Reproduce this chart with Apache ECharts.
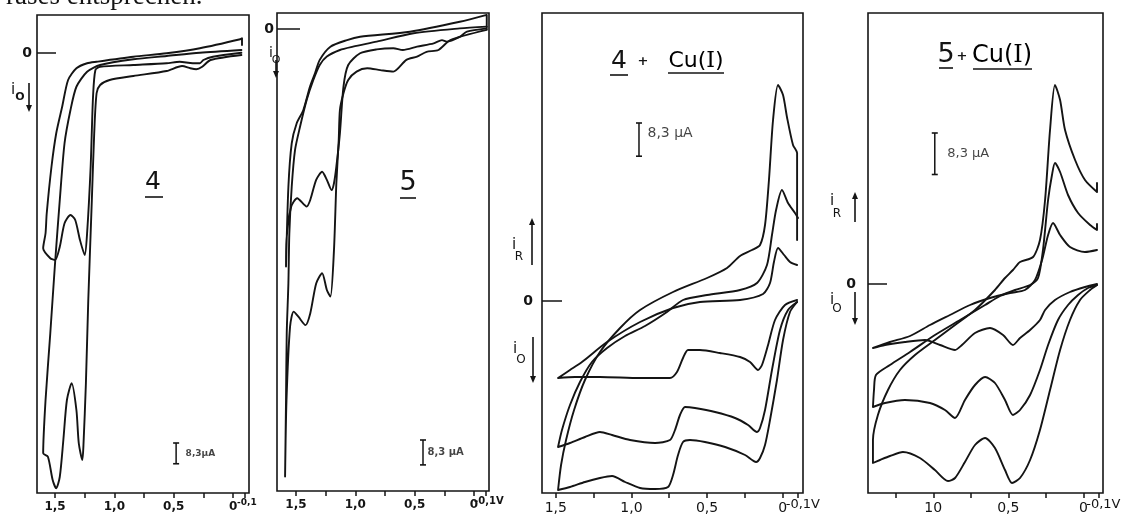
<!DOCTYPE html>
<html>
<head>
<meta charset="utf-8">
<title>Cyclovoltammogramme 4, 5, 4 + Cu(I), 5 + Cu(I)</title>
<script src="https://cdn.jsdelivr.net/npm/echarts@6/dist/echarts.min.js"></script>
<style>
  html, body { margin: 0; padding: 0; background: #fff; }
  #chart { width: 1121px; height: 523px; }
</style>
</head>
<body>
<div id="chart"></div>
<script>
const INK = "#141414";

// [E / V, i / µA]; oxidation current counted negative (drawn downwards)
// panel 1: compound 4, two successive scans
const p1Scan1 = [
  [-0.07, 0.1], [0.17, -1.5], [0.25, -2.8], [0.28, -4.1], [0.34, -4.1], [0.45, -3.5], [0.56, -4.1],
  [0.84, -4.8], [1.12, -5.5], [1.16, -6.8], [1.18, -17.5], [1.2, -45.5], [1.23, -72.1], [1.25, -80.8],
  [1.29, -74.8], [1.33, -66.8], [1.37, -64.8], [1.42, -68.1], [1.46, -77.5], [1.5, -82.8], [1.54, -82.1],
  [1.6, -78.1], [1.58, -72.1], [1.57, -64.1], [1.53, -45.5], [1.49, -32.1], [1.44, -21.5], [1.39, -10.8],
  [1.32, -6.1], [1.23, -4.1], [1.15, -3.5], [0.84, -1.5], [0.56, -0.1], [0.28, 1.9], [-0.06, 5.5],
  [-0.075, 5.9], [-0.075, 3.2]
];
const p1Scan2 = [
  [-0.07, -0.8], [0.19, -2.8], [0.26, -5.5], [0.31, -6.5], [0.36, -6.1], [0.43, -5.2], [0.56, -7.2],
  [0.84, -9.2], [1.04, -10.8], [1.12, -12.8], [1.15, -16.1], [1.17, -32.1], [1.19, -58.8], [1.22, -98.8],
  [1.24, -132.1], [1.26, -156.1], [1.27, -162.8], [1.3, -156.1], [1.32, -142.8], [1.36, -132.1],
  [1.4, -138.8], [1.43, -154.8], [1.46, -169.5], [1.49, -174.1], [1.52, -170.8], [1.56, -161.5],
  [1.6, -160.1], [1.58, -138.8], [1.54, -112.1], [1.5, -84.1], [1.46, -58.8], [1.42, -36.1],
  [1.37, -22.8], [1.32, -13.5], [1.23, -7.5], [1.12, -4.8], [0.84, -2.5], [0.56, -1.2], [0.28, 0.1],
  [-0.07, 1.2]
];

// panel 2: compound 5, two successive scans
const p2Scan1 = [
  [-0.107, 0.2], [0.06, -0.9], [0.12, -2.6], [0.23, -4.2], [0.27, -3.7], [0.34, -4.8], [0.48, -5.9],
  [0.6, -7.0], [0.68, -6.4], [0.82, -6.8], [0.96, -8.1], [1.06, -12.0], [1.1, -19.2], [1.13, -34.8],
  [1.16, -45.9], [1.18, -51.4], [1.2, -53.7], [1.24, -50.3], [1.28, -47.6], [1.33, -50.3], [1.38, -57.0],
  [1.41, -59.2], [1.49, -56.4], [1.54, -59.2], [1.58, -70.3], [1.584, -79.2], [1.564, -52.6],
  [1.536, -38.1], [1.494, -31.4], [1.438, -27.0], [1.382, -19.2], [1.34, -14.8], [1.3, -10.3],
  [1.21, -5.9], [1.07, -3.7], [0.96, -2.6], [0.54, -0.9], [0.12, 2.4], [-0.107, 4.7], [-0.107, -0.1]
];
const p2Scan2 = [
  [-0.107, -0.3], [0.2, -3.7], [0.3, -7.0], [0.4, -7.6], [0.48, -9.2], [0.57, -10.3], [0.68, -14.2],
  [0.79, -13.7], [0.9, -13.1], [0.99, -14.2], [1.06, -17.0], [1.1, -21.4], [1.13, -27.0], [1.14, -37.0],
  [1.16, -51.4], [1.18, -73.7], [1.21, -89.2], [1.24, -87.0], [1.28, -81.4], [1.33, -84.8], [1.38, -94.8],
  [1.42, -98.7], [1.48, -95.9], [1.52, -94.2], [1.55, -99.2], [1.58, -123.7], [1.592, -149.2],
  [1.584, -123.7], [1.578, -101.4], [1.564, -84.8], [1.556, -68.1], [1.536, -52.6], [1.508, -40.3],
  [1.466, -32.6], [1.41, -23.7], [1.354, -17.0], [1.3, -12.0], [1.24, -9.2], [1.13, -7.0], [1.02, -5.9],
  [0.82, -4.2], [0.51, -1.4], [0.12, 0.2], [-0.107, 0.8]
];

// panel 3: 4 + Cu(I), three scans
const p3Scan1 = [
  [-0.095, 0.25], [-0.015, -1.0], [0.051, -4.75], [0.097, -11.0], [0.137, -16.0], [0.163, -17.25],
  [0.216, -15.25], [0.282, -14.0], [0.415, -13.0], [0.547, -12.25], [0.626, -12.25], [0.659, -14.25],
  [0.699, -17.75], [0.745, -19.25], [0.943, -19.25], [1.208, -19.0], [1.373, -19.0], [1.485, -19.25],
  [1.406, -17.25], [1.327, -15.25], [1.161, -10.25], [0.943, -5.25], [0.725, -1.75], [0.547, -0.25],
  [0.282, 0.25], [0.13, 1.75], [0.084, 4.5], [0.058, 9.75], [0.031, 13.25], [-0.009, 11.5],
  [-0.048, 9.75], [-0.095, 9.0]
];
const p3Scan2 = [
  [-0.095, -0.25], [-0.035, -2.25], [0.018, -7.25], [0.071, -17.25], [0.117, -27.25], [0.15, -31.75],
  [0.17, -32.75], [0.229, -31.0], [0.315, -29.25], [0.447, -27.75], [0.58, -26.75], [0.646, -26.5],
  [0.679, -28.5], [0.712, -32.25], [0.745, -34.75], [0.844, -35.5], [1.009, -34.75], [1.128, -33.5],
  [1.208, -32.75], [1.307, -34.0], [1.406, -35.5], [1.485, -36.5], [1.459, -32.25], [1.406, -26.0],
  [1.34, -20.25], [1.261, -15.25], [1.161, -11.75], [1.042, -8.75], [0.91, -6.25], [0.765, -2.75],
  [0.659, 0.25], [0.5, 1.5], [0.282, 2.75], [0.17, 4.5], [0.104, 9.0], [0.071, 16.5], [0.044, 22.75],
  [0.005, 27.75], [-0.035, 24.5], [-0.081, 22.0], [-0.101, 20.75]
];
const p3Scan3 = [
  [-0.095, -0.25], [-0.048, -2.75], [-0.002, -9.75], [0.038, -19.75], [0.084, -29.75], [0.117, -36.0],
  [0.15, -39.25], [0.176, -40.25], [0.249, -38.5], [0.381, -36.5], [0.514, -35.25], [0.613, -34.75],
  [0.659, -35.25], [0.692, -38.5], [0.725, -43.5], [0.758, -46.5], [0.844, -47.0], [0.943, -46.75],
  [1.042, -45.25], [1.128, -43.75], [1.208, -44.25], [1.307, -45.25], [1.406, -46.5], [1.485, -47.25],
  [1.465, -41.0], [1.432, -34.75], [1.379, -27.25], [1.307, -19.75], [1.208, -12.75], [1.075, -6.75],
  [0.943, -2.25], [0.725, 2.25], [0.5, 5.75], [0.368, 8.25], [0.282, 11.25], [0.203, 12.75],
  [0.15, 14.0], [0.117, 19.0], [0.091, 30.25], [0.064, 45.25], [0.031, 54.0], [-0.002, 51.5],
  [-0.028, 46.0], [-0.068, 39.0], [-0.095, 37.0], [-0.095, 15.25]
];

// panel 4: 5 + Cu(I), three scans
const p4Scan1 = [
  [-0.091, 0], [-0.011, -0.6], [0.089, -1.6], [0.189, -3.2], [0.255, -5.2], [0.289, -7.2], [0.355, -9.2],
  [0.422, -10.8], [0.469, -12.2], [0.535, -10.2], [0.622, -8.8], [0.722, -9.8], [0.809, -12.2],
  [0.855, -13.2], [0.955, -12.2], [1.055, -11.2], [1.189, -11.6], [1.322, -12.2], [1.402, -12.8],
  [1.289, -11.6], [1.155, -10.4], [1.022, -8.2], [0.889, -6.2], [0.755, -4.2], [0.622, -2.8],
  [0.489, -1.8], [0.389, -1.2], [0.322, 0.8], [0.275, 4.8], [0.235, 9.8], [0.202, 12.2], [0.155, 9.8],
  [0.089, 7.4], [-0.011, 6.4], [-0.091, 6.8]
];
const p4Scan2 = [
  [-0.091, -0.2], [-0.031, -0.8], [0.035, -2.2], [0.102, -4.2], [0.169, -7.2], [0.235, -12.2],
  [0.289, -17.2], [0.355, -22.2], [0.422, -25.2], [0.469, -26.2], [0.522, -23.2], [0.589, -19.8],
  [0.655, -18.6], [0.722, -20.2], [0.789, -23.2], [0.855, -26.8], [0.922, -25.2], [1.022, -23.8],
  [1.189, -23.2], [1.322, -23.8], [1.402, -24.6], [1.395, -21.2], [1.382, -18.2], [1.289, -16.2],
  [1.155, -13.6], [0.989, -10.2], [0.822, -7.2], [0.655, -4.2], [0.555, -2.4], [0.455, -1.2],
  [0.355, -0.2], [0.302, 1.2], [0.269, 6.8], [0.235, 16.8], [0.209, 21.8], [0.189, 24.2], [0.155, 22.4],
  [0.102, 17.8], [0.035, 14.2], [-0.045, 11.8], [-0.091, 10.8], [-0.091, 12.0]
];
const p4Scan3 = [
  [-0.091, -0.2], [-0.045, -1.2], [0.022, -3.2], [0.089, -7.2], [0.155, -13.2], [0.222, -21.2],
  [0.289, -29.2], [0.355, -35.2], [0.422, -38.8], [0.475, -39.8], [0.522, -37.2], [0.589, -32.8],
  [0.655, -30.8], [0.722, -32.2], [0.789, -35.6], [0.855, -38.8], [0.902, -39.4], [0.989, -37.2],
  [1.089, -34.8], [1.202, -33.6], [1.289, -34.4], [1.355, -35.2], [1.402, -35.8], [1.402, -31.2],
  [1.369, -26.2], [1.302, -21.2], [1.222, -17.2], [1.122, -14.2], [0.989, -11.2], [0.855, -8.2],
  [0.722, -5.2], [0.589, -1.2], [0.522, 1.2], [0.469, 2.8], [0.422, 4.4], [0.335, 5.4], [0.289, 8.8],
  [0.255, 16.8], [0.222, 30.8], [0.189, 39.8], [0.155, 36.8], [0.122, 30.8], [0.055, 24.8],
  [-0.011, 20.8], [-0.091, 18.4], [-0.091, 20.2]
];

// 8,3 µA scale bars: [E, upper end of bar]
const scaleBars = [[0.48, -156], [0.43, -137], [0.95, 44.5], [0.99, 30.2]];
const scaleBarSpan = 8.3;
const scaleBarText = ["8,3µA", "8,3 µA", "8,3 µA", "8,3 µA"];

const tickValues = [1.5, 1.25, 1.0, 0.75, 0.5, 0.25, 0];
const labelValues = [1.5, 1.0, 0.5, 0];
const tickLabels = [
  ["1,5", "1,0", "0,5", "0"],
  ["1,5", "1,0", "0,5", "0"],
  ["1,5", "1,0", "0,5", "0"],
  ["", "10", "0,5", "0"]
];
const endValue = -0.1;
const endLabels = ["-0,1", "-0,1V", "-0,1V", "-0,1V"];

const panels = [
  { box: [37, 15, 212, 478], x: [-0.134, 1.652], y: [-176, 15.2], scans: [p1Scan1, p1Scan2],
    zeroTick: 19, zeroMargin: 5, font: 12, bold: "bold", endFont: 9, endShift: 4, barFont: 9, barGap: 9 },
  { box: [277, 13, 212, 478], x: [-0.126, 1.66], y: [-154, 5.33], scans: [p2Scan1, p2Scan2],
    zeroTick: 23, zeroMargin: 3, font: 12, bold: "bold", endFont: 10, endShift: 6, barFont: 10, barGap: 4 },
  { box: [542, 13, 261, 480], x: [-0.134, 1.591], y: [-48, 72], scans: [p3Scan1, p3Scan2, p3Scan3],
    zeroTick: 20, zeroMargin: 9, font: 14, bold: "normal", endFont: 13, endShift: 10, barFont: 14, barGap: 8,
    barLabelAt: 0.3 },
  { box: [868, 13, 235, 480], x: [-0.131, 1.435], y: [-41.8, 54.2], scans: [p4Scan1, p4Scan2, p4Scan3],
    zeroTick: 19, zeroMargin: 12, font: 14, bold: "normal", endFont: 13, endShift: 10, barFont: 13, barGap: 12 }
];

function text(t, x, y, size, weight) {
  return { type: "text", x: x, y: y, silent: true, style: {
    text: t, fontSize: size, fontWeight: weight || "normal", fontFamily: "DejaVu Sans", fill: INK,
    align: "center", verticalAlign: "middle"
  } };
}
function line(x1, y1, x2, y2) {
  return { type: "line", silent: true, shape: { x1: x1, y1: y1, x2: x2, y2: y2 },
           style: { stroke: INK, lineWidth: 1.6 } };
}
function arrow(x, from, to) {
  const d = to > from ? -7 : 7;
  return [line(x, from, x, to + d * 0.5),
          { type: "polygon", silent: true, shape: { points: [[x - 3, to + d], [x + 3, to + d], [x, to]] },
            style: { fill: INK } }];
}

const cuRich = (size) => ({
  a: { fontSize: size, fontFamily: "DejaVu Sans", color: INK },
  b: { fontSize: size, fontFamily: "DejaVu Serif", color: INK }
});

const graphic = [
  { type: "text", x: 6, y: -3, silent: true, style: { text: "rases entsprechen.", fontSize: 27,
    fontFamily: "Liberation Serif", fill: INK, align: "left", verticalAlign: "middle" } },
  text("i", 13, 90, 15), text("O", 20, 97, 11, "bold"),
  ...arrow(29, 83, 112),
  text("4", 153, 182, 25), line(145, 197, 163, 197),

  text("i", 271, 53, 14), text("O", 276, 60, 11),
  ...arrow(276, 60, 78),
  text("5", 408, 183, 27), line(400, 198, 416, 198),

  text("i", 514, 245, 15), text("R", 519, 257, 12),
  ...arrow(532, 265, 218),
  text("i", 515, 349, 15), text("O", 521, 360, 12),
  ...arrow(533, 337, 383),
  text("4", 619, 61, 25), text("+", 643, 62, 13, "bold"),
  { type: "text", x: 696, y: 61, silent: true, style: { text: "{a|Cu(}{b|I}{a|)}", rich: cuRich(22),
    align: "center", verticalAlign: "middle" } },
  line(610, 75, 628, 75), line(668, 73, 724, 73),

  text("i", 832, 201, 15), text("R", 837, 214, 12),
  ...arrow(855, 222, 192),
  text("i", 832, 300, 15), text("O", 837, 309, 12),
  ...arrow(855, 292, 325),
  text("5", 946, 55, 27), text("+", 962, 57, 13, "bold"),
  { type: "text", x: 1002, y: 56, silent: true, style: { text: "{a|Cu(}{b|I}{a|)}", rich: cuRich(24),
    align: "center", verticalAlign: "middle" } },
  line(939, 68, 953, 68), line(973, 69, 1032, 69)
];

const grid = [], xAxis = [], yAxis = [], series = [];

panels.forEach((p, i) => {
  grid.push({ left: p.box[0], top: p.box[1], width: p.box[2], height: p.box[3], show: true,
              containLabel: false, outerBoundsMode: "none",
              borderColor: INK, borderWidth: 1.6, backgroundColor: "transparent" });

  const names = {};
  labelValues.forEach((v, k) => { names[v.toFixed(2)] = tickLabels[i][k]; });
  const labelStyle = { fontSize: p.font, fontWeight: p.bold, color: INK, fontFamily: "DejaVu Sans" };
  const tickStyle = { length: 5, lineStyle: { color: INK, width: 1.5 } };
  const inRange = (v) => v >= p.x[0] && v <= p.x[1];

  // main potential axis: 1,5 ... 0
  xAxis.push({
    gridIndex: i, type: "value", inverse: true, min: p.x[0], max: p.x[1], position: "bottom",
    axisLine: { show: false, onZero: false }, splitLine: { show: false },
    axisTick: Object.assign({ show: true, customValues: tickValues.filter(inRange) }, tickStyle),
    axisLabel: Object.assign({
      customValues: labelValues.filter(inRange), margin: 8, hideOverlap: false,
      formatter: (v) => names[Number(v).toFixed(2)] || ""
    }, labelStyle)
  });
  // end-of-scan mark at -0,1 V, label set slightly higher and to the right
  xAxis.push({
    gridIndex: i, type: "value", inverse: true, min: p.x[0], max: p.x[1], position: "bottom",
    axisLine: { show: false, onZero: false }, splitLine: { show: false },
    axisTick: Object.assign({ show: true, customValues: [endValue] }, tickStyle),
    axisLabel: {
      customValues: [endValue], margin: 5, hideOverlap: false, showMinLabel: true, showMaxLabel: true,
      formatter: () => "{e|" + endLabels[i] + "}",
      rich: { e: Object.assign({}, labelStyle, { fontSize: p.endFont, padding: [0, 0, 0, p.endShift] }) }
    }
  });

  yAxis.push({
    gridIndex: i, type: "value", min: p.y[0], max: p.y[1], position: "left",
    axisLine: { show: false, onZero: false }, splitLine: { show: false },
    axisTick: { show: true, customValues: [0], inside: true, length: p.zeroTick,
                lineStyle: { color: INK, width: 1.5 } },
    axisLabel: { customValues: [0], formatter: () => "0", margin: p.zeroMargin,
                 fontSize: 14, fontWeight: "bold", color: INK, fontFamily: "DejaVu Sans" }
  });

  const xi = 2 * i;
  p.scans.forEach((scan) => {
    series.push({
      type: "line", xAxisIndex: xi, yAxisIndex: i, data: scan, symbol: "none", smooth: 0.25,
      silent: true, lineStyle: { color: INK, width: 1.9, join: "round", cap: "round" }
    });
  });

  const bar = scaleBars[i];
  series.push({
    type: "line", xAxisIndex: xi, yAxisIndex: i, silent: true,
    data: [[bar[0], bar[1]], [bar[0], bar[1] - scaleBarSpan]],
    symbol: "rect", symbolSize: [6, 1.6], showSymbol: true,
    itemStyle: { color: INK }, lineStyle: { color: INK, width: 1.5 }
  });
  const at = p.barLabelAt !== undefined ? p.barLabelAt : 0.5;
  series.push({
    type: "scatter", xAxisIndex: xi, yAxisIndex: i, silent: true,
    data: [[bar[0], bar[1] - scaleBarSpan * at]], symbolSize: 1, itemStyle: { color: "transparent" },
    label: { show: true, position: "right", distance: p.barGap, formatter: scaleBarText[i],
             fontSize: p.barFont, fontWeight: p.bold, color: INK, fontFamily: "DejaVu Sans" }
  });
});

const chart = echarts.init(document.getElementById("chart"));
chart.setOption({
  animation: false,
  backgroundColor: "#fff",
  grid, xAxis, yAxis, series, graphic
});
window.addEventListener("resize", () => chart.resize());
</script>
</body>
</html>
